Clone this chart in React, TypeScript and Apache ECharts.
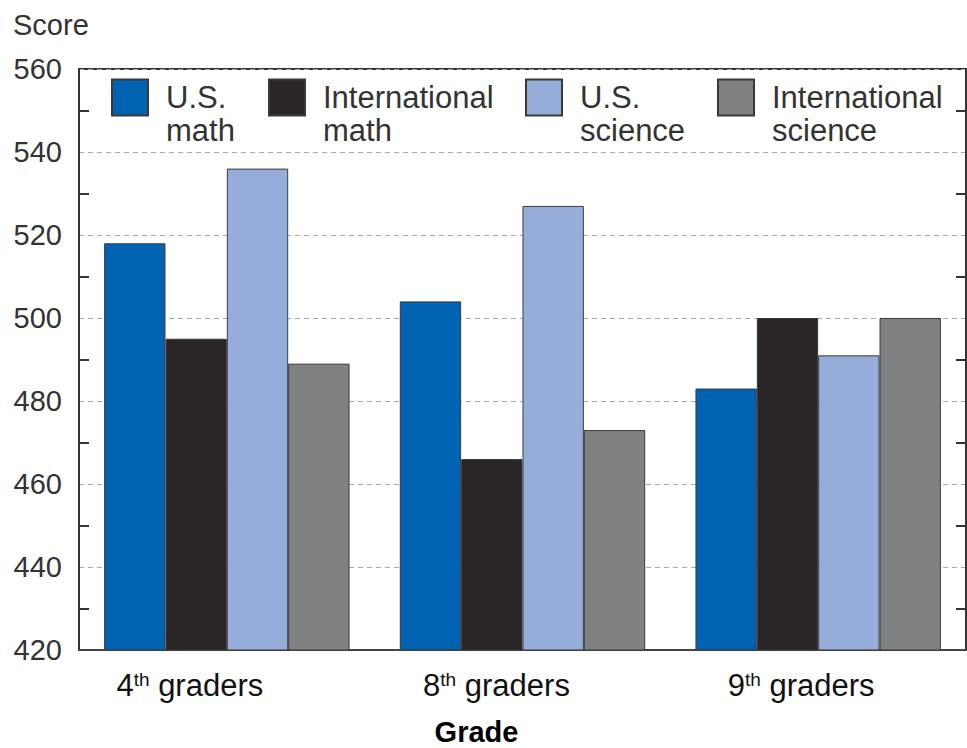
import React, { useEffect, useRef } from "react";
import * as echarts from "echarts";

const categories = ["4th graders", "8th graders", "9th graders"];
const seriesNames = ["U.S. math", "International math", "U.S. science", "International science"];
const usMath = [518, 504, 483];
const intlMath = [495, 466, 500];
const usScience = [536, 527, 491];
const intlScience = [489, 473, 500];
const yTicks = { min: 420, max: 560, interval: 20 };

const colors = ["#0063B1", "#2A2627", "#95ADD8", "#808183"];
const labelShift = [37, 26, 17];
const legendLefts = [111, 268, 525, 717];
const FONT = "'Liberation Sans', Arial, Helvetica, sans-serif";

export default function App() {
  const ref = useRef<HTMLDivElement>(null);
  useEffect(() => {
    if (!ref.current) return;
    const chart = echarts.init(ref.current, undefined, { renderer: "svg" });
    const values = [usMath, intlMath, usScience, intlScience];
    const option: any = {
      animation: false,
      textStyle: { fontFamily: FONT },
      title: {
        text: "Score",
        left: 8,
        top: 5,
        textStyle: { fontSize: 29, fontWeight: "normal", color: "#333", fontFamily: FONT },
      },
      grid: {
        left: 79,
        right: 1,
        top: 69,
        bottom: 98,
        containLabel: false,
        outerBoundsMode: "none",
        show: true,
        borderColor: "#333",
        borderWidth: 2,
      },
      legend: seriesNames.map((n, i) => ({
        data: [{ name: n, icon: "rect" }],
        left: legendLefts[i],
        top: 48,
        padding: 0,
        itemWidth: 36,
        itemHeight: 36,
        itemGap: 0,
        formatter: (name: string) => {
          const k = name.lastIndexOf(" ");
          return "\n" + name.slice(0, k) + "\n" + name.slice(k + 1);
        },
        textStyle: {
          fontSize: 31,
          lineHeight: 33,
          color: "#333",
          fontFamily: FONT,
          padding: [0, 0, 0, 13],
        },
        selectedMode: false,
      })),
      xAxis: {
        type: "category",
        data: categories.map((c, i) => ({
          value: c,
          textStyle: { padding: [0, labelShift[i] * 2, 0, 0] },
        })),
        axisTick: { show: false },
        axisLine: { lineStyle: { color: "#444", width: 2 } },
        axisLabel: {
          interval: 0,
          hideOverlap: false,
          margin: 20,
          color: "#111",
          fontSize: 31,
          fontFamily: FONT,
          formatter: (v: string) => {
            const m = v.match(/^(\d+)(th)(.*)$/);
            if (!m) return v;
            return `{n|${m[1]}}{s|${m[2]}}{n|${m[3]}}`;
          },
          rich: {
            n: { fontSize: 31, color: "#111", fontFamily: FONT },
            s: { fontSize: 19, color: "#111", fontFamily: FONT, verticalAlign: "top" },
          },
        },
        name: "Grade",
        nameLocation: "middle",
        nameGap: 67,
        nameTextStyle: {
          fontSize: 29,
          lineHeight: 29,
          fontWeight: "bold",
          color: "#000",
          fontFamily: FONT,
          padding: [0, 92, 0, 0],
        },
      },
      yAxis: [
        {
          type: "value",
          min: yTicks.min,
          max: yTicks.max,
          interval: yTicks.interval,
          axisLine: { show: true, lineStyle: { color: "#333", width: 2 } },
          axisTick: { show: false, inside: true },
          minorTick: { show: true, splitNumber: 2, length: 10, lineStyle: { color: "#333", width: 2 } },
          axisLabel: { margin: 17, fontSize: 29, color: "#333", fontFamily: FONT },
          splitLine: { show: true, lineStyle: { color: "#aaa", type: [5, 4], width: 1 } },
        },
        {
          type: "value",
          position: "right",
          min: yTicks.min,
          max: yTicks.max,
          interval: yTicks.interval,
          axisLine: { show: true, lineStyle: { color: "#333", width: 2 } },
          axisTick: { show: false, inside: true },
          minorTick: { show: true, splitNumber: 2, length: 10, lineStyle: { color: "#333", width: 2 } },
          axisLabel: { show: false },
          splitLine: { show: false },
        },
      ],
      series: seriesNames.map((n, i) => ({
        name: n,
        type: "bar",
        data: values[i],
        barGap: "0%",
        barCategoryGap: "17%",
        itemStyle: { color: colors[i], borderColor: "#3a3a3a", borderWidth: 1 },
      })),
    };
    chart.setOption(option);
    return () => chart.dispose();
  }, []);
  return (
    <div
      ref={ref}
      style={{ position: "fixed", left: 0, top: 0, width: 967, height: 748, background: "#fff" }}
    />
  );
}
